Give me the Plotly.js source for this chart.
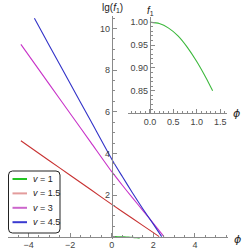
<!DOCTYPE html>
<html><head><meta charset="utf-8">
<script src="https://cdn.plot.ly/plotly-3.0.1.min.js"></script>
<style>html,body{margin:0;padding:0;background:#fff}#chart{width:250px;height:250px}</style>
</head><body><div id="chart"></div>
<script>
// ---- data ----
const seriesNames = ['<i>v</i> = 1', '<i>v</i> = 1.5', '<i>v</i> = 3', '<i>v</i> = 4.5'];
const phiV1  = [0, 0.2, 0.4, 0.6, 0.8, 1.0, 1.2, 1.34];
const lgV1   = [0, -0.001, -0.006, -0.013, -0.024, -0.039, -0.056, -0.071];
const phiV15 = [-4.37, -3, -2, -1, 0, 1, 2, 2.28];
const lgV15  = [4.61, 3.65, 2.95, 2.25, 1.55, 0.87, 0.19, 0];
const phiV3  = [-4.37, -3, -2, -1, 0, 0.5, 1, 1.5, 2, 2.51];
const lgV3   = [9.24, 7.32, 5.92, 4.52, 3.12, 2.48, 1.86, 1.25, 0.64, 0];
const phiV45 = [-3.72, -3, -2, -1, 0, 0.5, 1, 1.5, 2, 2.4];
const lgV45  = [10.5, 9.18, 7.36, 5.54, 3.72, 2.9, 2.1, 1.33, 0.6, 0];
const insetPhi = [0, 0.2, 0.4, 0.6, 0.8, 1.0, 1.2, 1.34];
const insetF1  = [1.0, 0.997, 0.987, 0.970, 0.945, 0.914, 0.878, 0.850];
const mainXTicks = [-4, -2, 0, 2, 4];
const mainYTicks = [2, 4, 6, 8, 10];
const insetXTicks = [0, 0.5, 1.0, 1.5];
const insetXLabels = ['0.0', '0.5', '1.0', '1.5'];
const insetYTicks = [0.85, 0.90, 0.95, 1.00];
const insetYLabels = ['0.85', '0.90', '0.95', '1.00'];

// ---- styles ----
const lineColors   = ['#3cb83c', '#c83232', '#c832c8', '#3232c8'];
const legendColors = ['#22c422', '#e39c9c', '#cc66cc', '#3a3ad0'];
const FONT = 'Liberation Sans, Arial, sans-serif';
const axisCol = '#8a8a8a', tickTxt = '#444';

const W = 250, H = 250, M = {l: 8, r: 22, t: 16, b: 11};
const PW = W - M.l - M.r, PH = H - M.t - M.b;
const px2x = p => (p - M.l) / PW;          // pixel -> paper x
const px2y = p => (H - M.b - p) / PH;      // pixel -> paper y

const xRange = [-4.99, 5.59], yRange = [-0.115, 10.605];
const ixRange = [-0.47, 1.64], iyRange = [0.801, 1.012];
const ixDom = [0.545, 0.994], iyDom = [0.564, 0.997];

const mainX = [phiV1, phiV15, phiV3, phiV45];
const mainY = [lgV1, lgV15, lgV3, lgV45];
const traces = [];
for (let i = 0; i < 4; i++) {
  traces.push({x: mainX[i], y: mainY[i], type: 'scatter', mode: 'lines', name: seriesNames[i],
    line: {color: lineColors[i], width: 1.1, shape: 'spline', smoothing: 0.6}, showlegend: false, hoverinfo: 'skip'});
}
traces.push({x: insetPhi, y: insetF1, xaxis: 'x2', yaxis: 'y2', type: 'scatter', mode: 'lines', name: seriesNames[0],
  line: {color: lineColors[0], width: 1.1, shape: 'spline', smoothing: 0.6}, showlegend: false, hoverinfo: 'skip'});

// ---- legend box (Mathematica style, compact) ----
const shapes = [], annotations = [];
const bx0 = px2x(8.5), bx1 = px2x(60), by0 = px2y(233), by1 = px2y(171);
const rx = 4 / PW, ry = 4 / PH;
shapes.push({type: 'path', xref: 'paper', yref: 'paper', line: {color: '#222', width: 1}, fillcolor: '#fff', layer: 'above',
  path: `M ${bx0 + rx} ${by0} L ${bx1 - rx} ${by0} Q ${bx1} ${by0} ${bx1} ${by0 + ry} L ${bx1} ${by1 - ry} Q ${bx1} ${by1} ${bx1 - rx} ${by1} ` +
        `L ${bx0 + rx} ${by1} Q ${bx0} ${by1} ${bx0} ${by1 - ry} L ${bx0} ${by0 + ry} Q ${bx0} ${by0} ${bx0 + rx} ${by0} Z`});
const rowY = [179, 193.4, 207.8, 222.2];
for (let i = 0; i < 4; i++) {
  shapes.push({type: 'line', xref: 'paper', yref: 'paper', layer: 'above', x0: px2x(12.5), x1: px2x(27), y0: px2y(rowY[i]), y1: px2y(rowY[i]),
    line: {color: legendColors[i], width: 2}});
  annotations.push({xref: 'paper', yref: 'paper', x: px2x(31), y: px2y(rowY[i]), text: seriesNames[i], showarrow: false,
    xanchor: 'left', yanchor: 'middle', font: {family: FONT, size: 9, color: '#222'}});
}

const axBase = {showgrid: false, zeroline: false, showline: true, linecolor: axisCol, linewidth: 1,
  ticks: 'inside', ticklen: 4, tickcolor: axisCol, tickwidth: 1,
  tickfont: {family: FONT, size: 9, color: tickTxt}, fixedrange: true};

annotations.push(
  {xref: 'paper', yref: 'paper', x: px2x(112.5), y: px2y(8), text: 'lg(<i>f</i><sub>1</sub>)', showarrow: false, xanchor: 'center', yanchor: 'middle', font: {family: FONT, size: 10, color: '#222'}},
  {xref: 'paper', yref: 'paper', x: px2x(237), y: px2y(239), text: '<i>\u03d5</i>', showarrow: false, xanchor: 'center', yanchor: 'middle', font: {family: 'DejaVu Sans', size: 11, color: '#222'}},
  {xref: 'paper', yref: 'paper', x: px2x(150), y: px2y(11), text: '<i>f</i><sub>1</sub>', showarrow: false, xanchor: 'center', yanchor: 'middle', font: {family: FONT, size: 10, color: '#222'}},
  {xref: 'paper', yref: 'paper', x: px2x(236.7), y: px2y(113), text: '<i>\u03d5</i>', showarrow: false, xanchor: 'center', yanchor: 'middle', font: {family: 'DejaVu Sans', size: 11, color: '#222'}}
);

const layout = {
  width: W, height: H,
  margin: {l: M.l, r: M.r, t: M.t, b: M.b, pad: 0},
  paper_bgcolor: '#fff', plot_bgcolor: 'rgba(0,0,0,0)',
  showlegend: false,
  xaxis: Object.assign({}, axBase, {range: xRange, anchor: 'free', position: (0 - yRange[0]) / (yRange[1] - yRange[0]),
    tickmode: 'array', tickvals: mainXTicks, ticktext: mainXTicks.map(v => String(v).replace('-', '\u2212')),
    minor: {dtick: 0.5, tick0: 0, ticklen: 2, ticks: 'inside', tickcolor: axisCol}}),
  yaxis: Object.assign({}, axBase, {range: yRange, anchor: 'free', side: 'left', position: (0 - xRange[0]) / (xRange[1] - xRange[0]),
    tickmode: 'array', tickvals: mainYTicks, ticktext: mainYTicks.map(String),
    minor: {dtick: 0.5, tick0: 0, ticklen: 2, ticks: 'inside', tickcolor: axisCol}}),
  xaxis2: Object.assign({}, axBase, {domain: ixDom, range: ixRange, anchor: 'y2',
    tickmode: 'array', tickvals: insetXTicks, ticktext: insetXLabels,
    minor: {dtick: 0.1, tick0: 0, ticklen: 2, ticks: 'inside', tickcolor: axisCol}}),
  yaxis2: Object.assign({}, axBase, {domain: iyDom, range: iyRange, anchor: 'free', side: 'left',
    position: ixDom[0] + (0 - ixRange[0]) / (ixRange[1] - ixRange[0]) * (ixDom[1] - ixDom[0]),
    tickmode: 'array', tickvals: insetYTicks, ticktext: insetYLabels,
    minor: {dtick: 0.01, tick0: 0, ticklen: 2, ticks: 'inside', tickcolor: axisCol}}),
  shapes: shapes,
  annotations: annotations
};

Plotly.newPlot('chart', traces, layout, {staticPlot: true, displayModeBar: false});
</script>
</body></html>
